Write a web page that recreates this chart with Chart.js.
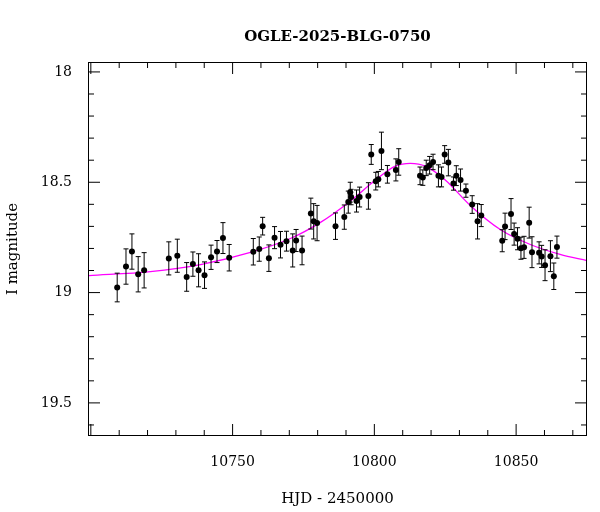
<!DOCTYPE html>
<html><head><meta charset="utf-8">
<script src="https://cdn.jsdelivr.net/npm/chart.js@4"></script>
<style>html,body{margin:0;padding:0;background:#fff}#w{width:600px;height:512px}</style>
</head><body><div id="w"><canvas id="c"></canvas></div>
<script>
const hjd = [10709.3,10712.4,10714.5,10716.7,10718.8,10727.5,10730.5,10733.8,10736.0,10738.0,10740.1,10742.4,10744.5,10746.6,10748.8,10757.3,10759.4,10760.6,10762.8,10764.8,10766.9,10769.0,10771.2,10772.4,10774.5,10777.6,10778.6,10779.8,10786.3,10789.4,10791.5,10790.8,10791.8,10793.7,10794.8,10797.9,10798.9,10800.5,10801.4,10802.5,10804.6,10807.6,10808.6,10816.1,10817.1,10818.3,10819.5,10820.7,10822.6,10823.7,10824.8,10826.1,10827.9,10828.9,10830.4,10832.3,10834.5,10836.4,10837.7,10845.1,10846.1,10848.2,10849.3,10850.5,10851.7,10852.8,10854.6,10855.6,10858.1,10859.0,10860.2,10862.1,10863.3,10864.4];
const mag = [18.977,18.882,18.814,18.917,18.899,18.845,18.833,18.929,18.871,18.899,18.921,18.840,18.814,18.753,18.842,18.815,18.803,18.699,18.844,18.751,18.783,18.767,18.809,18.764,18.809,18.642,18.677,18.685,18.699,18.658,18.545,18.590,18.567,18.585,18.567,18.562,18.374,18.495,18.486,18.358,18.464,18.444,18.408,18.471,18.479,18.435,18.423,18.408,18.471,18.476,18.374,18.411,18.506,18.470,18.490,18.538,18.601,18.677,18.651,18.765,18.700,18.644,18.735,18.756,18.799,18.795,18.683,18.817,18.820,18.836,18.876,18.835,18.926,18.794];
const err = [0.065,0.08,0.08,0.08,0.08,0.075,0.075,0.065,0.055,0.075,0.06,0.055,0.05,0.07,0.06,0.06,0.055,0.04,0.06,0.05,0.06,0.045,0.075,0.05,0.065,0.07,0.08,0.08,0.06,0.055,0.045,0.05,0.035,0.05,0.045,0.06,0.045,0.04,0.035,0.085,0.04,0.05,0.06,0.04,0.035,0.035,0.04,0.035,0.05,0.045,0.04,0.06,0.03,0.045,0.05,0.03,0.04,0.08,0.05,0.05,0.06,0.07,0.05,0.05,0.05,0.05,0.07,0.07,0.05,0.05,0.07,0.07,0.06,0.05];
const modelX = [10699.3,10721,10738.7,10756.3,10770.4,10781,10791.5,10800.4,10807.4,10812.7,10818,10825,10833.8,10844.4,10855,10865.5,10875];
const modelY = [18.923,18.905,18.873,18.818,18.755,18.682,18.586,18.49,18.427,18.414,18.427,18.49,18.605,18.714,18.782,18.827,18.855];
const xTicks = [10750,10800,10850];
const yTicks = [18,18.5,19,19.5];
const FONT = "'DejaVu Serif','Liberation Serif',serif";

const plug = {
  id:'extra',
  afterDatasetsDraw(ch){
    const c=ch.ctx, x=ch.scales.x, y=ch.scales.y, a=ch.chartArea;
    c.save();
    c.strokeStyle='#000'; c.lineWidth=1;
    // error bars
    hjd.forEach((h,i)=>{
      const px=x.getPixelForValue(h), p1=y.getPixelForValue(mag[i]-err[i]), p2=y.getPixelForValue(mag[i]+err[i]);
      c.beginPath(); c.moveTo(px,p1); c.lineTo(px,p2);
      c.moveTo(px-2.5,p1); c.lineTo(px+2.5,p1); c.moveTo(px-2.5,p2); c.lineTo(px+2.5,p2); c.stroke();
    });
    // frame
    c.strokeRect(a.left+0.5,a.top+0.5,a.right-a.left-1,a.bottom-a.top-1);
    // ticks
    c.beginPath();
    for(let v=10700; v<=10875; v+=10){
      const px=x.getPixelForValue(v); const L = v%50===0?12:6;
      c.moveTo(px,a.bottom); c.lineTo(px,a.bottom-L); c.moveTo(px,a.top); c.lineTo(px,a.top+L);
    }
    for(let k=180; k<=196; k++){
      const v=k/10, py=y.getPixelForValue(v); const L = k%5===0?12:6;
      c.moveTo(a.left,py); c.lineTo(a.left+L,py); c.moveTo(a.right,py); c.lineTo(a.right-L,py);
    }
    c.stroke();
    c.fillStyle='#000'; c.font='bold 15px '+FONT; c.textAlign='center'; c.textBaseline='middle';
    c.fillText('OGLE-2025-BLG-0750',(a.left+a.right)/2,37);
    c.restore();
  }
};

new Chart(document.getElementById('c'),{
  data:{datasets:[
    {type:'scatter',data:hjd.map((h,i)=>({x:h,y:mag[i]})),pointRadius:3,pointBackgroundColor:'#000',pointBorderWidth:0,order:1},
    {type:'line',data:modelX.map((h,i)=>({x:h,y:modelY[i]})),borderColor:'#ff00ff',borderWidth:1.3,pointRadius:0,tension:0.4,cubicInterpolationMode:'monotone',order:2}
  ]},
  options:{
    responsive:true,maintainAspectRatio:false,animation:false,
    layout:{padding:{top:62,right:13,left:0,bottom:0}},
    plugins:{legend:{display:false},tooltip:{enabled:false}},
    scales:{
      x:{type:'linear',min:10699,max:10875,grid:{display:false},border:{display:false},
        afterBuildTicks:s=>{s.ticks=xTicks.map(v=>({value:v}));},
        afterFit:s=>{s.height=76;},
        ticks:{color:'#000',font:{family:FONT,size:14},padding:10,callback:v=>String(v)},
        title:{display:true,text:'HJD - 2450000',color:'#000',font:{family:FONT,size:15},padding:{top:6}}},
      y:{type:'linear',reverse:true,min:17.955,max:19.65,grid:{display:false},border:{display:false},
        afterBuildTicks:s=>{s.ticks=yTicks.map(v=>({value:v}));},
        afterFit:s=>{s.width=88;},
        ticks:{color:'#000',font:{family:FONT,size:14},padding:8,callback:v=>String(v)},
        title:{display:true,text:'I magnitude',color:'#000',font:{family:FONT,size:15},padding:{bottom:4}}}
    }
  },
  plugins:[plug]
});
</script></body></html>
